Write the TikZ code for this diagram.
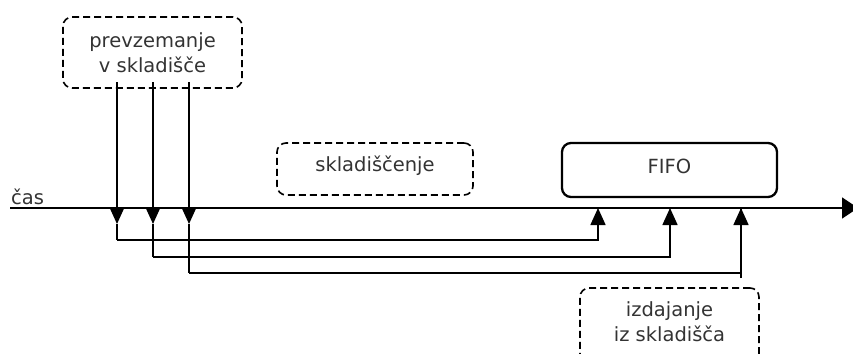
\documentclass[tikz,border=0pt]{standalone}
\usepackage{fontspec}
\setmainfont{DejaVu Sans}
\usetikzlibrary{arrows.meta}
\begin{document}
\begin{tikzpicture}[x=1pt,y=-1pt,
  lbl/.style={font=\fontsize{19.5}{25}\selectfont, text=black!80, align=center},
  dbox/.style={draw, dashed, dash pattern=on 7pt off 4pt, line width=1.6pt, rounded corners=9pt, inner sep=0pt},
  sbox/.style={draw, line width=2.3pt, rounded corners=9pt, inner sep=0pt},
  ln/.style={line width=1.6pt},
  tip/.style={-{Triangle[length=17pt,width=15pt]}},
  axtip/.style={-{Triangle[length=16pt,width=21pt]}}]
\useasboundingbox (0,0) rectangle (853,353);
% boxes
\node[dbox, minimum width=179pt, minimum height=71pt] (in) at (152.5,52.5) {};
\node[lbl] (intxt) at (152.5,53) {prevzemanje\\v skladišče};
\node[dbox, minimum width=196pt, minimum height=52pt] (st) at (375,169) {};
\node[lbl] (sttxt) at (375,166) {skladiščenje};
\node[sbox, minimum width=215pt, minimum height=54pt] (fifo) at (669.5,170) {};
\node[lbl] (fifotxt) at (669.5,166) {FIFO};
\node[dbox, minimum width=179pt, minimum height=90pt] (out) at (669.5,333) {};
\node[lbl] (outtxt) at (669.5,322) {izdajanje\\iz skladišča};
% axis
\coordinate (a0) at (10,208);
\coordinate (a1) at (858,208);
\draw[ln, axtip] (a0) -- (a1);
\node[lbl, anchor=south west, inner sep=0pt] (cas) at (11,205) {čas};
% in-arrows
\foreach \i/\x/\xo/\y in {1/117/598/240, 2/153/670/257, 3/189/741/273}{
  \coordinate (s\i) at (\x,82);
  \coordinate (d\i) at (\x,224);
  \coordinate (c\i) at (\x,\y);
  \coordinate (e\i) at (\xo,208);
  \draw[ln, tip] (s\i) -- (d\i);
  \draw[ln] (d\i) -- (c\i);
  \draw[ln, tip] (c\i) -| (e\i);
}
\draw[ln] (e3) ++(0,70) coordinate (f3) -- (e3);
\end{tikzpicture}
\end{document}
